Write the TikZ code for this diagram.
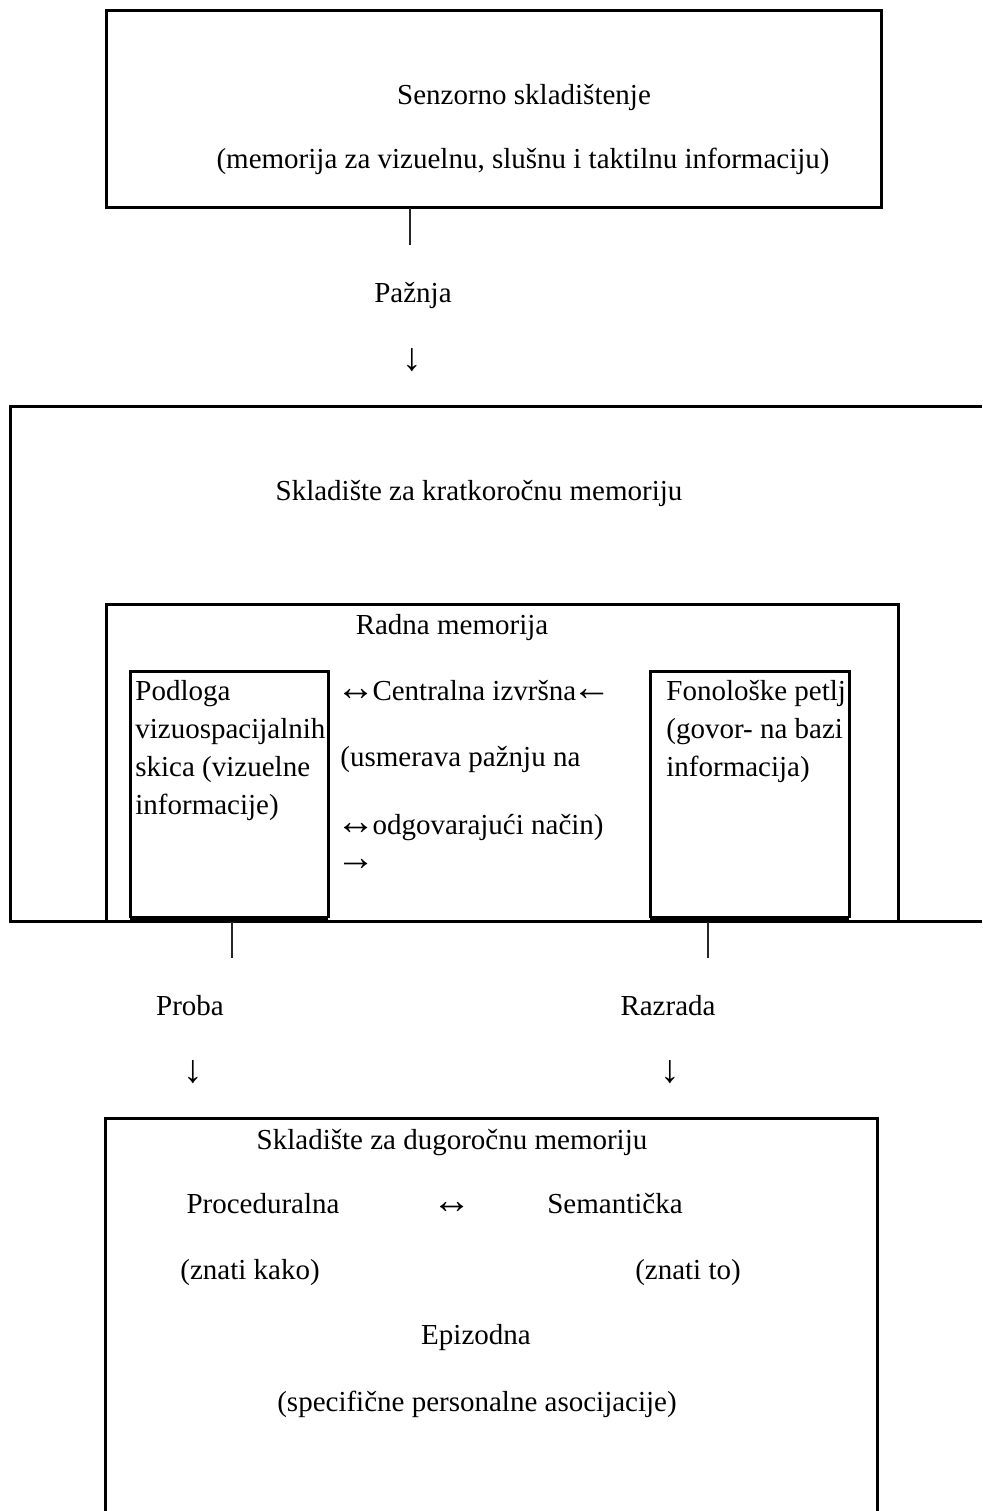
\documentclass[tikz,border=0pt]{standalone}
\usepackage{fontspec}
\setmainfont{Liberation Serif}
\newfontfamily\arrowfont{Liberation Serif}[Scale=1.35]
\newcommand\arw[1]{{\arrowfont\kern-0.09em #1\kern-0.09em}}
\usetikzlibrary{
    positioning
    }

\begin{document}
\begin{tikzpicture}[x=0.5pt, y=-0.5pt]
\tikzset{store/.style =
        {
            line width=1.5pt,
            draw=black
        }
}

\tikzset{floor/.style =
        {
            line width=2.2pt,
            draw=black
        }
}

\tikzset{stem/.style =
        {
            line width=1.3pt,
            draw=black!85
        }
}

\tikzset{txt/.style =
        {
            anchor=base,
            inner sep=0pt,
            font=\fontsize{14.5pt}{19pt}\selectfont
        }
}

\tikzset{txtl/.style = { txt, anchor=base west } }

		\useasboundingbox (0,0) rectangle (982,1511);

		% boxes
		\draw[store] (106,10) rectangle (881,207);
		\draw[store] (982,406) -- (10,406) -- (10,921) -- (982,921);
		\draw[store] (106,921) -- (106,604) -- (898,604) -- (898,921);
		\draw[store] (130,918) -- (130,671) -- (328,671) -- (328,918);
		\draw[floor] (130,918) -- (328,918);
		\draw[store] (650,918) -- (650,671) -- (849,671) -- (849,918);
		\draw[floor] (650,918) -- (849,918);
		\draw[store] (105,1511) -- (105,1118) -- (877,1118) -- (877,1511);

		% senzorno
		\node[txt] (sens) at (524,104) {Senzorno skladištenje};
		\node[txt] (sens-info) at (523,168) {(memorija za vizuelnu, slušnu i taktilnu informaciju)};

		\coordinate (sens-out) at (410,208);
		\coordinate (paz-in) at (410,245);
		\draw[stem] (sens-out) -- (paz-in);
		\node[txt] (paz) at (413,302) {Pažnja};
		\node[txt] (paz-arrow) at (412,370) {\arw{↓}};

		% kratkorocna
		\node[txt] (stm) at (479,500) {Skladište za kratkoročnu memoriju};
		\node[txt] (radna) at (452,634) {Radna memorija};

		\foreach \t [count=\i] in {Podloga, vizuospacijalnih, {skica (vizuelne}, {informacije)}}
		\node[txtl] (pod-\i) at (135,662+38*\i) {\t};

		\foreach \t [count=\i] in {Fonološke petlj, {(govor- na bazi}, {informacija)}}
		\node[txtl] (fon-\i) at (666,662+38*\i) {\t};

		\foreach \t / \y [count=\i] in {{\arw{↔}Centralna izvršna\arw{←}}/700, {(usmerava pažnju na}/766, {\arw{↔}odgovarajući način)}/834, {\arw{→}}/870}
		\node[txtl] (ce-\i) at (340,\y) {\t};

		% ka dugorocnoj
		\foreach \name / \x in {proba/232, razrada/708}
		{
			\coordinate (\name-out) at (\x,922);
			\coordinate (\name-in) at (\x,958);
			\draw[stem] (\name-out) -- (\name-in);
		}
		\node[txt] (proba) at (190,1015) {Proba};
		\node[txt] (razrada) at (668,1015) {Razrada};
		\node[txt] (proba-arrow) at (193,1082) {\arw{↓}};
		\node[txt] (razrada-arrow) at (670,1082) {\arw{↓}};

		% dugorocna
		\node[txt] (ltm) at (452,1149) {Skladište za dugoročnu memoriju};
		\node[txt] (proc) at (263,1213) {Proceduralna};
		\node[txt] (link) at (452,1213) {\arw{↔}};
		\node[txt] (sem) at (615,1213) {Semantička};
		\node[txt] (proc-info) at (250,1279) {(znati kako)};
		\node[txt] (sem-info) at (688,1279) {(znati to)};
		\node[txt] (epi) at (476,1344) {Epizodna};
		\node[txt] (epi-info) at (477,1411) {(specifične personalne asocijacije)};

	\end{tikzpicture}
\end{document}
